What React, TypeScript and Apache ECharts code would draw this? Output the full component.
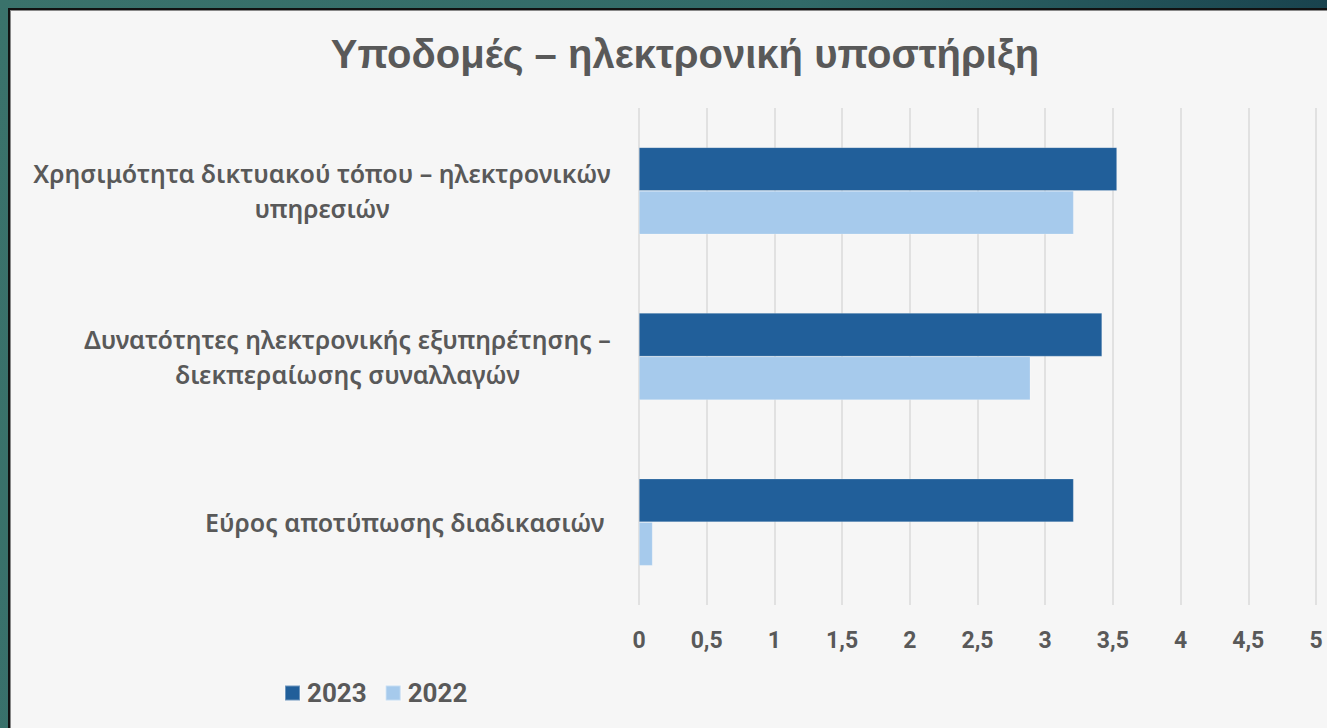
import React, { useEffect, useRef } from "react";
import * as echarts from "echarts";

const categories = [
  "Χρησιμότητα δικτυακού τόπου – ηλεκτρονικών\nυπηρεσιών",
  "Δυνατότητες ηλεκτρονικής εξυπηρέτησης –\nδιεκπεραίωσης συναλλαγών",
  "Εύρος αποτύπωσης διαδικασιών ",
];
const values2023 = [3.53, 3.42, 3.21];
const values2022 = [3.21, 2.89, 0.1];
const seriesNames = ["2023", "2022"];
const colors = ["#215f9a", "#a6caec"];
const titleText = "Υποδομές – ηλεκτρονική υποστήριξη";

const labelFont = '600 25px "Noto Sans"';

function measure(text: string, font: string): number {
  const c = document.createElement("canvas");
  const ctx = c.getContext("2d");
  if (!ctx) return text.length * 12;
  ctx.font = font;
  return ctx.measureText(text).width;
}

export default function App() {
  const ref = useRef<HTMLDivElement>(null);
  useEffect(() => {
    if (!ref.current) return;
    const chart = echarts.init(ref.current, null, { renderer: "svg" });
    const rich: Record<string, any> = {};
    categories.forEach((c, i) => {
      const w = Math.max(...c.split("\n").map((l) => measure(l, labelFont)));
      rich["c" + i] = {
        width: Math.ceil(w) + 2,
        align: "center",
        fontFamily: "Noto Sans",
        fontWeight: 600,
        fontSize: 25,
        lineHeight: 35,
        color: "#595959",
      };
    });
    chart.setOption({
      animation: false,
      backgroundColor: "transparent",
      title: {
        text: titleText,
        left: 680,
        textAlign: "center",
        top: 29,
        textStyle: {
          fontFamily: "Liberation Sans",
          fontWeight: "bold",
          fontSize: 40,
          color: "#595959",
        },
      },
      legend: {
        data: seriesNames,
        left: 279,
        top: 675,
        itemWidth: 15,
        itemHeight: 15,
        itemGap: 18,
        icon: "rect",
        textStyle: {
          fontFamily: "Roboto",
          fontWeight: "bold",
          fontSize: 26,
          color: "#595959",
          padding: [0, 0, 0, 2],
        },
      },
      grid: { left: 639, right: 11, top: 108, bottom: 123, containLabel: false },
      xAxis: {
        type: "value",
        min: 0,
        max: 5,
        interval: 0.5,
        axisLine: { show: false },
        axisTick: { show: false },
        splitLine: { show: true, lineStyle: { color: "#dadada", width: 1.5 } },
        axisLabel: {
          margin: 24,
          fontFamily: "Roboto",
          fontWeight: "bold",
          fontSize: 23,
          color: "#595959",
          formatter: (v: number) => String(v).replace(".", ","),
        },
      },
      yAxis: {
        type: "category",
        data: categories,
        inverse: true,
        axisLine: { show: false },
        axisTick: { show: false },
        axisLabel: {
          margin: 27,
          align: "right",
          formatter: (v: string, idx: number) =>
            v
              .split("\n")
              .map((l) => `{c${idx}|${l}}`)
              .join("\n"),
          rich,
        },
      },
      series: [
        {
          name: seriesNames[0],
          type: "bar",
          data: values2023,
          barWidth: 43.5,
          barGap: "0%",
          itemStyle: { color: colors[0], borderColor: "rgba(255,255,255,0.35)", borderWidth: 0.6 },
        },
        {
          name: seriesNames[1],
          type: "bar",
          data: values2022,
          barWidth: 43.5,
          barGap: "0%",
          itemStyle: { color: colors[1], borderColor: "rgba(255,255,255,0.35)", borderWidth: 0.6 },
        },
      ],
    });
    return () => chart.dispose();
  }, []);

  return (
    <div
      style={{
        position: "fixed",
        left: 0,
        top: 0,
        width: 1327,
        height: 728,
        overflow: "hidden",
        background: "linear-gradient(100deg, #3a726b 0%, #316a68 55%, #133a48 100%)",
      }}
    >
      <div
        style={{
          position: "absolute",
          left: 8,
          top: 8,
          width: 1340,
          height: 740,
          background: "#f6f6f6",
          borderTop: "2px solid #111",
          borderLeft: "2px solid #111",
          boxShadow: "inset 1px 1px 0 #888",
        }}
      />
      <div ref={ref} style={{ position: "absolute", left: 0, top: 0, width: 1327, height: 728 }} />
    </div>
  );
}
